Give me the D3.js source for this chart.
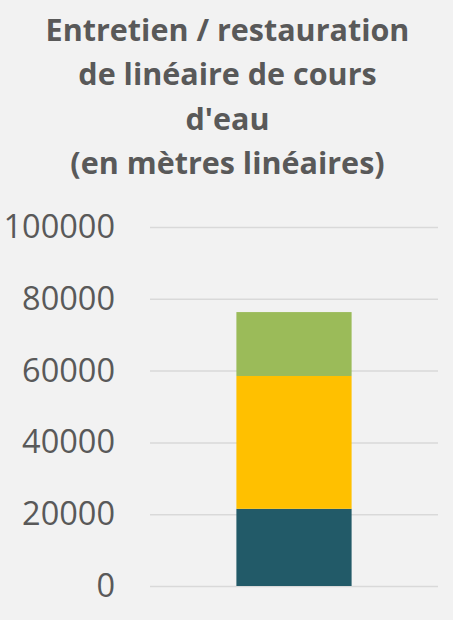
<!DOCTYPE html>
<html>
<head>
<meta charset="utf-8">
<script src="https://cdn.jsdelivr.net/npm/d3@7"></script>
<style>
  html, body { margin: 0; padding: 0; background: #f2f2f2; }
  svg { display: block; }
</style>
</head>
<body>
<div id="chart"></div>
<script>
var titleLines = ['Entretien / restauration', 'de linéaire de cours', 'd\'eau', '(en mètres linéaires)'];
var categories = [''];
var seriesNames = ['Série 1', 'Série 2', 'Série 3'];
var seriesValues = [[21500], [37000], [17800]];
var seriesColors = ['#225a68', '#ffc000', '#9bbb59'];
var yTicks = [0, 20000, 40000, 60000, 80000, 100000];

var width = 453, height = 620;
var margin = { top: 227, right: 15, bottom: 34, left: 150 };

var svg = d3.select('#chart').append('svg')
  .attr('width', width)
  .attr('height', height);

svg.append('rect')
  .attr('width', width)
  .attr('height', height)
  .attr('fill', '#f2f2f2');

svg.append('g').selectAll('text')
  .data(titleLines).enter()
  .append('text')
  .text(function (d) { return d; })
  .attr('x', width / 2 + 1)
  .attr('y', function (d, i) { return 41 + i * 44.3; })
  .attr('text-anchor', 'middle')
  .attr('font-family', 'Open Sans, sans-serif')
  .attr('font-weight', 'bold')
  .attr('font-size', 30.5)
  .attr('fill', '#595959');

var y = d3.scaleLinear()
  .domain([0, 100000])
  .range([height - margin.bottom, margin.top]);

var x = d3.scaleBand()
  .domain(categories)
  .range([margin.left, width - margin.right])
  .paddingInner(0.6)
  .paddingOuter(0.3);

var yAxis = svg.append('g')
  .attr('transform', 'translate(' + margin.left + ',0)')
  .call(d3.axisLeft(y)
    .tickValues(yTicks)
    .tickSize(-(width - margin.left - margin.right))
    .tickPadding(35)
    .tickFormat(d3.format('d')));

yAxis.select('.domain').remove();
yAxis.selectAll('.tick line')
  .attr('stroke', '#d9d9d9')
  .attr('stroke-width', 1.5);
yAxis.selectAll('.tick text')
  .attr('font-family', 'Open Sans, sans-serif')
  .attr('font-size', 32.5)
  .attr('fill', '#595959');

var stackData = categories.map(function (c, i) {
  var row = { category: c };
  seriesNames.forEach(function (s, j) { row[s] = seriesValues[j][i]; });
  return row;
});

var stacked = d3.stack().keys(seriesNames)(stackData);

svg.append('g').selectAll('g')
  .data(stacked).enter()
  .append('g')
  .attr('fill', function (d, i) { return seriesColors[i]; })
  .selectAll('rect')
  .data(function (d) { return d; }).enter()
  .append('rect')
  .attr('x', function (d) { return x(d.data.category); })
  .attr('width', x.bandwidth())
  .attr('y', function (d) { return y(d[1]); })
  .attr('height', function (d) { return y(d[0]) - y(d[1]); });
</script>
</body>
</html>
